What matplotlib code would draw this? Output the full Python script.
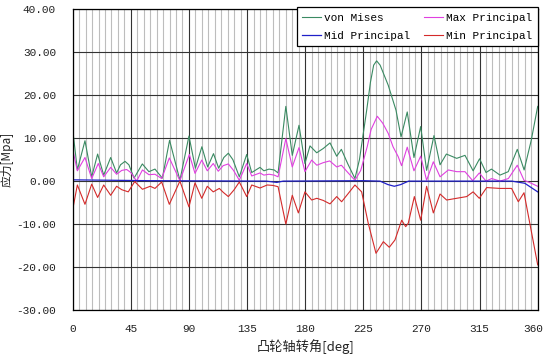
import numpy as np
import matplotlib.pyplot as plt
from matplotlib.ticker import MultipleLocator, FormatStrFormatter
from matplotlib.transforms import ScaledTranslation

# data (cam angle in deg, stress in MPa)
vm_ang = [0, 3.6, 9.5, 14.7, 19.3, 24, 29.4, 34, 37, 40.5, 43.5, 47.5, 53.9, 59, 63.7,
          69.4, 75, 83, 90, 95, 100, 104.5, 109, 113, 117, 120.5, 124, 129, 134.7,
          138.6, 145, 148, 152, 156, 159, 165, 170, 175.2, 179.8, 183.7, 188.9, 194,
          199.2, 204.4, 208, 213, 218.5, 222, 227.6, 230.5, 233, 235.3, 238, 244.3,
          250.3, 254.2, 259, 264.2, 269.4, 274, 279.7, 284.4, 289.3, 297.3, 303.7,
          310, 315, 320, 324.2, 330.8, 337.2, 344.2, 349.5, 355, 360]
vm_val = [12.0, 2.6, 9.4, 1.0, 6.3, 1.4, 5.5, 1.9, 3.8, 4.6, 3.8, 0.7, 4.0, 2.2, 2.8,
          0.7, 9.5, 0.2, 10.5, 3.0, 8.0, 3.3, 6.4, 3.0, 5.5, 6.5, 5.0, 1.0, 6.2,
          2.0, 3.2, 2.4, 2.8, 2.6, 1.9, 17.4, 6.0, 13.0, 4.1, 8.2, 6.6, 7.6,
          8.9, 5.8, 7.4, 4.0, 0.6, 5.0, 16.5, 23.0, 27.0, 28.0, 27.0, 22.3,
          16.5, 10.3, 16.1, 5.5, 12.7, 2.5, 10.6, 3.8, 6.3, 5.3, 6.0,
          2.4, 5.2, 2.0, 2.8, 1.4, 2.2, 7.4, 2.6, 9.5, 17.4]

max_ang = [0, 3.6, 9.5, 14.7, 19.8, 24, 29.4, 34, 38, 41.8, 45, 49.5, 54, 59, 63.7,
           68.9, 74.8, 83, 90.3, 94.7, 99.9, 104.2, 108.8, 112.7, 116.5, 120.5, 124.5,
           129, 134.7, 138.6, 145, 148, 152, 156, 159, 165, 170, 175.2, 179.8, 185,
           189, 194, 199, 204.4, 208, 213, 218.5, 223, 228, 231, 235.8, 240, 244.3,
           248, 252, 254.6, 259, 264.2, 269.4, 274, 279.2, 284.4, 290.8, 297.3, 303.7,
           309.7, 314.8, 320, 324.4, 330.8, 337.3, 344.2, 349.4, 355, 360]
max_val = [7.4, 2.4, 5.5, 0.6, 4.1, 1.0, 3.2, 1.6, 2.5, 2.7, 2.0, 0.0, 2.6, 1.5, 1.6,
           0.6, 5.4, 0.1, 6.2, 1.8, 4.9, 2.4, 4.1, 2.3, 3.6, 4.0, 2.5,
           0.2, 4.1, 1.2, 1.9, 1.4, 1.6, 1.4, 1.0, 9.9, 3.3, 7.8, 2.2, 4.9,
           3.7, 4.3, 4.7, 3.3, 3.7, 2.0, 0.2, 2.5, 8.0, 12.0, 15.1, 13.5, 11.1,
           8.0, 5.7, 3.6, 7.9, 2.4, 5.8, 0.2, 4.5, 1.0, 2.6, 2.2, 2.2,
           0.1, 1.9, 0.0, 0.6, 0.0, 0.6, 3.7, 0.2, -0.5, -1.2]

mid_ang = [0, 30, 60, 150, 158, 163, 225, 238, 244, 249, 254, 260, 340, 350, 360]
mid_val = [0.3, 0.2, 0.1, 0.0, -0.3, 0.0, 0.1, 0.0, -0.8, -1.2, -0.8, 0.0, 0.0, -0.5, -2.5]

min_ang = [0, 3.6, 9.5, 14.7, 19.3, 24, 29.4, 34, 38, 43, 48, 54, 60, 63.7, 68.9,
           74.8, 83, 90, 94.7, 99.9, 104.2, 108.8, 113.5, 116.5, 120.5, 125, 129,
           134.7, 138.6, 145, 150.6, 155, 159, 165, 170, 174.7, 179.8, 185, 189, 194,
           199.2, 204.4, 208.2, 213, 218.5, 223.7, 228.8, 234.8, 240.5, 245.1, 249.5,
           254.7, 257.8, 259.8, 264.5, 269.4, 274, 279.2, 284.4, 289.5, 297.2, 305,
           310, 314.8, 320.5, 330.8, 339.8, 345, 349.4, 360]
min_val = [-6.6, -0.9, -5.4, -0.7, -3.8, -0.9, -3.3, -1.2, -2.0, -2.5, -0.1, -1.9, -1.2, -1.7, -0.2,
           -5.4, 0.0, -6.0, -0.4, -4.0, -1.2, -2.5, -1.7, -2.6, -3.6, -2.0, -0.2,
           -3.6, -0.9, -1.6, -0.9, -1.0, -1.3, -10.0, -3.3, -7.4, -2.5, -4.4, -4.0, -4.5,
           -5.3, -3.6, -4.8, -3.0, -0.9, -2.5, -9.8, -16.8, -14.1, -15.4, -13.7,
           -9.1, -10.6, -9.8, -3.6, -9.1, -1.2, -7.4, -3.0, -4.4, -4.0, -3.6,
           -2.5, -4.0, -1.5, -1.7, -1.7, -4.8, -2.7, -19.5]

mono = 'Liberation Mono'
cjk = ['Noto Sans CJK SC', 'DejaVu Sans']

fig = plt.figure(figsize=(5.45, 3.55), dpi=100)
ax = fig.add_axes([0.1334, 0.1268, 0.8532, 0.847])

kw = dict(lw=0.8, solid_joinstyle='round')
l1, = ax.plot(vm_ang, vm_val, color='#3a8a62', **kw)
l2, = ax.plot(max_ang, max_val, color='#e040e0', **kw)
l3, = ax.plot(mid_ang, mid_val, color='#2020c8', lw=0.9)
l4, = ax.plot(min_ang, min_val, color='#d42a2a', **kw)

ax.set_xlim(0, 360)
ax.set_ylim(-30, 40)
ax.xaxis.set_major_locator(MultipleLocator(45))
ax.xaxis.set_minor_locator(MultipleLocator(5))
ax.yaxis.set_major_locator(MultipleLocator(10))
ax.yaxis.set_major_formatter(FormatStrFormatter('%.2f'))
ax.grid(which='minor', axis='x', color='#bdbdbd', lw=0.8)
ax.grid(which='major', color='#333333', lw=0.8)
ax.set_axisbelow(True)
ax.tick_params(which='both', length=0)
ax.tick_params(axis='x', pad=10)
ax.tick_params(axis='y', pad=12)
for lab in ax.get_xticklabels() + ax.get_yticklabels():
    lab.set_family(mono)
    lab.set_fontsize(8)
    lab.set_color('#222222')
for sp in ax.spines.values():
    sp.set_color('black')
    sp.set_linewidth(0.9)

ax.set_xlabel('凸轮轴转角[deg]', family=cjk, fontsize=9.5, color='#222222')
ax.xaxis.set_label_coords(0.5, -0.098)
ax.set_ylabel('应力[Mpa]', family=cjk, fontsize=8.5, color='#222222')
ax.yaxis.set_label_coords(-0.127, 0.5)

leg = ax.legend([l1, l3, l2, l4], ['von Mises', 'Mid Principal', 'Max Principal', 'Min Principal'],
                ncol=2, loc='upper right', bbox_to_anchor=(1.0, 1.007),
                prop={'family': mono, 'size': 8}, fancybox=False, framealpha=1,
                edgecolor='black', handlelength=1.7, handletextpad=0.3,
                columnspacing=1.2, borderpad=0.5, labelspacing=0.7, borderaxespad=0)
leg.get_frame().set_linewidth(0.9)

# nudge the "360" label so it stays inside the figure
fig.canvas.draw()
for t in ax.xaxis.get_major_ticks():
    if abs(t.get_loc() - 360) < 1e-6:
        t.label1.set_transform(t.label1.get_transform()
                               + ScaledTranslation(-0.04, 0, fig.dpi_scale_trans))

fig.savefig('out.png', dpi=100)
